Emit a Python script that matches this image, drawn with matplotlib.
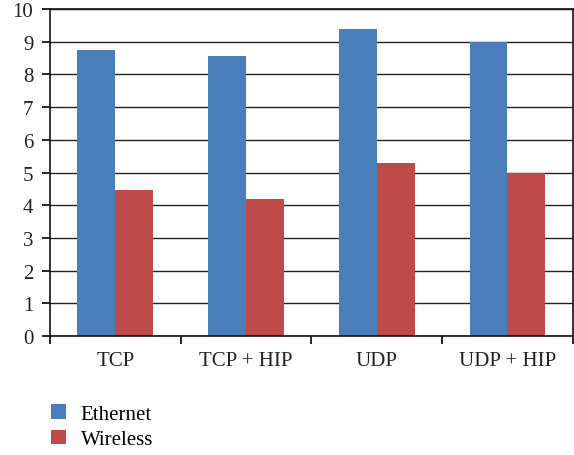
import numpy as np
import matplotlib.pyplot as plt

plt.rcParams['font.family'] = 'Liberation Serif'
plt.rcParams['font.size'] = 15

categories = ['TCP', 'TCP + HIP', 'UDP', 'UDP + HIP']
ethernet = [8.75, 8.55, 9.4, 9.0]
wireless = [4.45, 4.2, 5.28, 5.0]

fig = plt.figure(figsize=(5.74, 4.56), dpi=100)
ax = fig.add_axes([0.087, 0.261, 0.911, 0.717])

x = np.arange(len(categories))
w = 0.29
ax.set_axisbelow(True)
ax.yaxis.grid(True, color='#222222', lw=1.0)
b1 = ax.bar(x - w/2, ethernet, w, color='#4A7EBB', label='Ethernet')
b2 = ax.bar(x + w/2, wireless, w, color='#BE4B48', label='Wireless')

ax.set_xlim(-0.5, len(categories) - 0.5)
ax.set_ylim(0, 10)
ax.set_yticks(range(0, 11))
ax.set_xticks(x)
ax.set_xticklabels(categories, color='#222222')
ax.set_xticks(np.arange(-0.5, len(categories)), minor=True)
ax.tick_params(axis='x', which='major', length=0, pad=11)
ax.tick_params(axis='x', which='minor', length=6, width=1.2, direction='out')
ax.tick_params(axis='y', length=6, width=1.2, direction='out', pad=6, labelcolor='#222222')
for s in ax.spines.values():
    s.set_color('#111111')
    s.set_linewidth(1.2)

fig.legend(handles=[b1, b2], loc='upper left', bbox_to_anchor=(0.075, 0.13),
           frameon=False, handlelength=0.7, handleheight=0.7,
           handletextpad=0.7, labelspacing=0.3, borderaxespad=0)

fig.savefig('out.png', dpi=100)
